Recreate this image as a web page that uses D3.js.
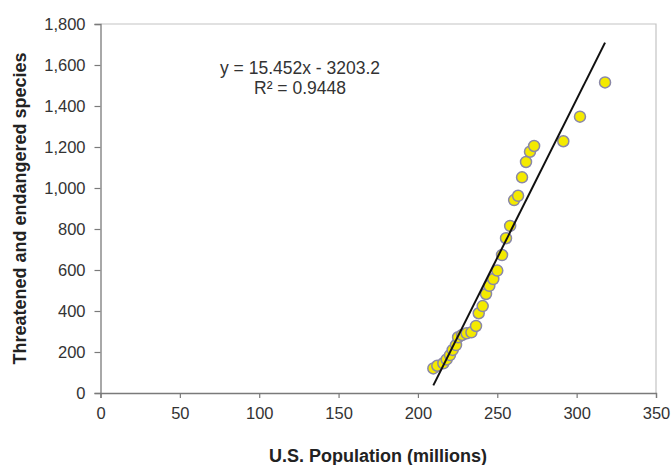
<!DOCTYPE html>
<html>
<head>
<meta charset="utf-8">
<script src="https://cdn.jsdelivr.net/npm/d3@7"></script>
<style>
  html, body { margin: 0; padding: 0; background: #fff; }
  svg { display: block; }
  text { font-family: "Liberation Sans", Arial, sans-serif; }
</style>
</head>
<body>
<svg id="chart" width="672" height="465"></svg>
<script>
// U.S. population (millions)
const population = [209.7, 212.2, 216.0, 218.1, 220.2, 221.9, 224.0, 225.3, 227.8, 230.7,
                    233.7, 236.6, 238.3, 240.8, 242.9, 245.0, 247.5, 250.0, 253.0, 255.5,
                    258.1, 260.6, 263.1, 265.6, 268.1, 270.6, 273.2, 291.6, 302.1, 317.9];
// Threatened and endangered species
const species = [120, 133, 145, 164, 185, 210, 234, 272, 283, 291,
                 296, 327, 389, 424, 483, 523, 556, 597, 673, 755,
                 815, 941, 962, 1052, 1127, 1177, 1205, 1228, 1348, 1515];
const xTicks = [0, 50, 100, 150, 200, 250, 300, 350];
const yTicks = [0, 200, 400, 600, 800, 1000, 1200, 1400, 1600, 1800];
const slope = 15.452, intercept = -3203.2, r2 = 0.9448;
const trendRange = [209.7, 317.9];
const xTitle = "U.S. Population (millions)";
const yTitle = "Threatened and endangered species";

const svg = d3.select("#chart");
const x = d3.scaleLinear().domain([0, 350]).range([100.5, 656]);
const y = d3.scaleLinear().domain([0, 1800]).range([393, 24]);

// plot area border (top/right)
svg.append("path")
  .attr("d", `M${x(0)},${y(1800)}H${x(350)}V${y(0)}`)
  .attr("fill", "none").attr("stroke", "#c4c4c4").attr("stroke-width", 1.2);

const fmt = d3.format(",");

const gx = svg.append("g").attr("transform", `translate(0,${y(0)})`)
  .call(d3.axisBottom(x).tickValues(xTicks).tickSize(5).tickPadding(9).tickFormat(fmt));
const gy = svg.append("g").attr("transform", `translate(${x(0)},0)`)
  .call(d3.axisLeft(y).tickValues(yTicks).tickSize(6).tickPadding(9).tickFormat(fmt));
[gx, gy].forEach(g => {
  g.select(".domain").attr("stroke", "#7a7a7a").attr("stroke-width", 1.3);
  g.selectAll(".tick line").attr("stroke", "#7a7a7a").attr("stroke-width", 1.2);
  g.selectAll(".tick text").attr("fill", "#333").style("font-size", "16.5px")
    .style("font-family", "'Liberation Sans', Arial, sans-serif");
});

// points
svg.append("g").selectAll("circle")
  .data(population.map((p, i) => [p, species[i]]))
  .join("circle")
  .attr("cx", d => x(d[0])).attr("cy", d => y(d[1])).attr("r", 5.5)
  .attr("fill", "#f4ea00").attr("stroke", "#8a88a8").attr("stroke-width", 1.5);

// trendline
svg.append("line")
  .attr("x1", x(trendRange[0])).attr("y1", y(slope * trendRange[0] + intercept))
  .attr("x2", x(trendRange[1])).attr("y2", y(slope * trendRange[1] + intercept))
  .attr("stroke", "#111").attr("stroke-width", 2);

// equation
svg.append("text").attr("x", 300).attr("y", 74).attr("text-anchor", "middle")
  .attr("fill", "#333").style("font-size", "17.5px")
  .text(`y = ${slope}x - ${Math.abs(intercept)}`);
svg.append("text").attr("x", 300).attr("y", 94).attr("text-anchor", "middle")
  .attr("fill", "#333").style("font-size", "17.5px")
  .text(`R² = ${r2}`);

// axis titles
svg.append("text").attr("x", 378).attr("y", 462).attr("text-anchor", "middle")
  .attr("fill", "#222").style("font-size", "18px").style("font-weight", "bold")
  .text(xTitle);
svg.append("text").attr("transform", `translate(26,${(y(0) + y(1800)) / 2}) rotate(-90)`)
  .attr("text-anchor", "middle")
  .attr("fill", "#222").style("font-size", "18px").style("font-weight", "bold")
  .text(yTitle);
</script>
</body>
</html>
